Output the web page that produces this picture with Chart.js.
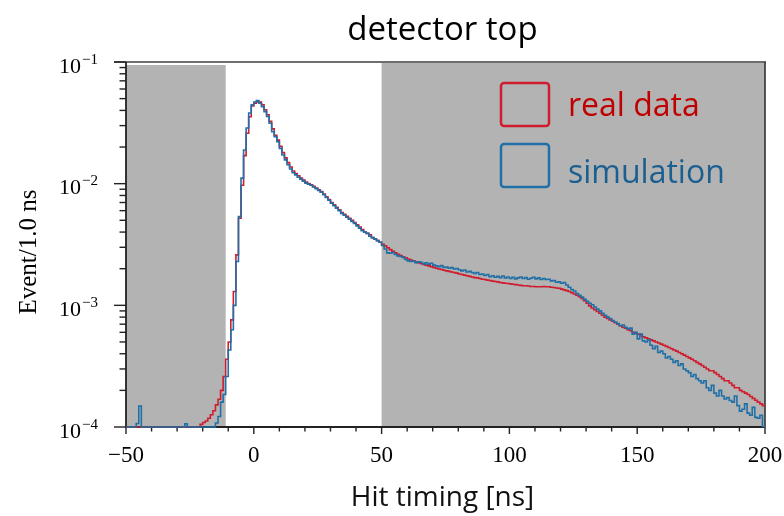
<!DOCTYPE html>
<html>
<head>
<meta charset="utf-8">
<script src="https://cdn.jsdelivr.net/npm/chart.js@4.4.0/dist/chart.umd.min.js"></script>
<style>
  html, body { margin: 0; padding: 0; background: #fff; }
</style>
</head>
<body>
<canvas id="graficaTiming" width="784" height="516"></canvas>
<script>
// histogram bins: 1 ns wide, left edge of first bin at -50 ns
const binStart = -50;
const binWidth = 1;

// real data, Event/1.0 ns, bins -50 .. 199
const realData = [
  1e-4, 1e-4, 1e-4, 1e-4, 1e-4, 1e-4, 1e-4, 1e-4, 1e-4, 1e-4,                       // -50
  1e-4, 1e-4, 1e-4, 1e-4, 1e-4, 1e-4, 1e-4, 1e-4, 1e-4, 1e-4,                       // -40
  1e-4, 1e-4, 1e-4, 1e-4, 1e-4, 1e-4, 1e-4, 1e-4, 1e-4, 1.05e-4,                    // -30
  1.09e-4, 1.12e-4, 1.18e-4, 1.26e-4, 1.36e-4, 1.52e-4, 1.69e-4, 2.0e-4, 2.6e-4, 3.6e-4, // -20
  5.0e-4, 7.6e-4, 1.3e-3, 2.6e-3, 5.2e-3, 9.7e-3, 0.017, 0.026, 0.0355, 0.0435,     // -10
  0.0458, 0.047, 0.0468, 0.0445, 0.0405, 0.0368, 0.0325, 0.0282, 0.0250, 0.0228,    // 0
  0.0203, 0.0180, 0.0163, 0.0149, 0.0137, 0.0127, 0.0121, 0.0116, 0.0111, 0.0107,   // 10
  0.0103, 0.0100, 0.0098, 0.0095, 0.0092, 0.0089, 0.0086, 0.0082, 0.0078, 0.0074,   // 20
  0.0070, 0.0067, 0.0064, 0.0061, 0.0058, 0.0056, 0.0054, 0.0052, 0.0050, 0.0048,   // 30
  0.0046, 0.0044, 0.0042, 0.0040, 0.0039, 0.0038, 0.0036, 0.0035, 0.0034, 0.0033,   // 40
  0.00318, 0.00308, 0.00297, 0.00287, 0.00278, 0.00270, 0.00263, 0.00257, 0.00251, 0.00246, // 50
  0.00240, 0.00236, 0.00232, 0.00228, 0.00224, 0.00221, 0.00217, 0.00214, 0.00211, 0.00208, // 60
  0.00205, 0.00202, 0.00199, 0.00197, 0.00194, 0.00192, 0.00190, 0.00188, 0.00186, 0.00184, // 70
  0.00181, 0.00179, 0.00177, 0.00175, 0.00173, 0.00171, 0.00169, 0.00168, 0.00166, 0.00164, // 80
  0.00163, 0.00161, 0.00160, 0.00158, 0.00157, 0.00156, 0.00154, 0.00153, 0.00152, 0.00151, // 90
  0.00150, 0.00149, 0.00148, 0.00147, 0.00146, 0.00145, 0.00145, 0.00144, 0.00143, 0.00143, // 100
  0.00142, 0.00142, 0.00142, 0.00143, 0.00142, 0.00142, 0.00141, 0.00140, 0.00139, 0.00138, // 110
  0.00136, 0.00134, 0.00132, 0.00130, 0.00127, 0.00124, 0.00121, 0.00118, 0.00114, 0.00109, // 120
  0.00104, 0.00099, 0.00095, 0.00092, 0.00089, 0.00086, 0.00083, 0.00080, 0.00078, 0.00076, // 130
  0.00074, 0.00072, 0.00070, 0.00068, 0.00066, 0.00065, 0.00063, 0.00062, 0.00060, 0.00059, // 140
  0.00058, 0.00056, 0.00055, 0.00054, 0.00053, 0.00052, 0.00051, 0.00050, 0.00049, 0.00048, // 150
  0.00047, 0.00046, 0.00045, 0.00044, 0.00043, 0.00042, 0.00041, 0.00040, 0.00039, 0.00038, // 160
  0.00037, 0.00036, 0.00035, 0.00034, 0.00033, 0.00032, 0.00031, 0.00030, 0.00029, 0.00029, // 170
  0.00028, 0.00027, 0.00026, 0.00025, 0.00024, 0.00024, 0.00023, 0.00022, 0.00021, 0.00021, // 180
  0.00020, 0.000195, 0.00019, 0.000185, 0.000178, 0.000172, 0.000166, 0.00016, 0.000155, 0.00015 // 190
];

// simulation, Event/1.0 ns, bins -50 .. 199
const simulation = [
  1e-4, 1e-4, 1e-4, 1e-4, 1.07e-4, 1.49e-4, 1e-4, 1e-4, 1e-4, 1e-4,                 // -50
  1e-4, 1e-4, 1e-4, 1e-4, 1e-4, 1e-4, 1e-4, 1e-4, 1e-4, 1e-4,                       // -40
  1e-4, 1e-4, 1e-4, 1.06e-4, 1e-4, 1e-4, 1e-4, 1e-4, 1e-4, 1e-4,                    // -30
  1e-4, 1e-4, 1e-4, 1e-4, 1e-4, 1.08e-4, 1.22e-4, 1.6e-4, 1.85e-4, 2.6e-4,          // -20
  4.3e-4, 6.3e-4, 1.0e-3, 2.29e-3, 5.36e-3, 0.0111, 0.0189, 0.0287, 0.0381, 0.0444, // -10
  0.0469, 0.0481, 0.0458, 0.0430, 0.0391, 0.0356, 0.0314, 0.0267, 0.0243, 0.0221,   // 0
  0.0195, 0.0172, 0.0157, 0.0143, 0.0132, 0.0123, 0.0118, 0.0113, 0.0109, 0.0105,   // 10
  0.0101, 0.0099, 0.0097, 0.0094, 0.0091, 0.0088, 0.0085, 0.0081, 0.0077, 0.0073,   // 20
  0.0069, 0.0066, 0.0063, 0.0060, 0.0057, 0.0055, 0.0053, 0.0051, 0.0049, 0.0047,   // 30
  0.0045, 0.0043, 0.0041, 0.0040, 0.0039, 0.0037, 0.0036, 0.0035, 0.0034, 0.0033,   // 40
  0.0031, 0.0029, 0.0027, 0.00268, 0.00272, 0.00262, 0.00255, 0.00252, 0.00248, 0.00238, // 50
  0.00232, 0.00229, 0.00231, 0.00224, 0.00228, 0.00226, 0.00219, 0.00224, 0.00218, 0.00222, // 60
  0.00214, 0.00211, 0.00208, 0.00212, 0.00205, 0.00206, 0.00202, 0.00204, 0.00199, 0.00201, // 70
  0.00196, 0.00192, 0.00195, 0.00188, 0.00190, 0.00186, 0.00183, 0.00186, 0.00179, 0.00181, // 80
  0.00176, 0.00179, 0.00172, 0.00175, 0.00170, 0.00173, 0.00169, 0.00174, 0.00168, 0.00171, // 90
  0.00166, 0.00170, 0.00165, 0.00168, 0.00171, 0.00166, 0.00169, 0.00164, 0.00167, 0.00170, // 100
  0.00165, 0.00168, 0.00163, 0.00166, 0.00163, 0.00164, 0.00159, 0.00160, 0.00155, 0.00156, // 110
  0.00152, 0.00154, 0.00147, 0.00141, 0.00135, 0.00131, 0.00125, 0.00121, 0.00117, 0.00112, // 120
  0.00108, 0.00104, 0.00101, 0.00097, 0.00093, 0.00090, 0.00086, 0.00083, 0.00080, 0.00078, // 130
  0.00075, 0.00073, 0.00071, 0.00068, 0.00069, 0.00066, 0.00064, 0.00065, 0.00058, 0.00060, // 140
  0.00053, 0.00058, 0.00051, 0.00050, 0.00052, 0.00047, 0.00044, 0.00046, 0.00041, 0.00042, // 150
  0.00040, 0.00037, 0.00038, 0.00036, 0.00034, 0.00035, 0.00032, 0.00033, 0.00030, 0.00029, // 160
  0.00028, 0.00026, 0.00027, 0.00025, 0.00024, 0.00023, 0.00024, 0.00021, 0.00020, 0.00022, // 170
  0.00019, 0.00018, 0.00020, 0.00018, 0.00017, 0.000175, 0.000165, 0.00016, 0.00018, 0.00015, // 180
  0.000135, 0.00014, 0.000155, 0.00013, 0.000125, 0.000145, 0.00012, 0.000118, 0.000125, 0.000101 // 190
];

// axis ticks and labels
const xMajorTicks = [-50, 0, 50, 100, 150, 200];
const xTickLabels = ['\u221250', '0', '50', '100', '150', '200'];
const xMinorTicks = [-40, -30, -20, -10, 10, 20, 30, 40, 60, 70, 80, 90, 110, 120, 130, 140, 160, 170, 180, 190];
const yDecades = [1e-1, 1e-2, 1e-3, 1e-4];
const yExponents = ['\u22121', '\u22122', '\u22123', '\u22124'];
const yMinorMultipliers = [2, 3, 4, 5, 6, 7, 8, 9];

// time windows shaded grey [from, to] in ns
const shadedRanges = [[-50, -11], [50, 200]];

const labelTitle = 'detector top';
const labelX = 'Hit timing [ns]';
const labelY = 'Event/1.0 ns';
const legendItems = [
  { text: 'real data', line: '#cf1d2f', textColor: '#c00000', boxTop: 83, baseline: 116 },
  { text: 'simulation', line: '#2070a8', textColor: '#1b5f91', boxTop: 144, baseline: 183 }
];

function histPoints(values) {
  const pts = values.map((v, i) => ({ x: binStart + i * binWidth, y: v }));
  pts.push({ x: binStart + values.length * binWidth, y: values[values.length - 1] });
  return pts;
}

const serif = '"Liberation Serif", "Times New Roman", serif';
const sans = '"Open Sans", "Noto Sans", sans-serif';

const decor = {
  id: 'decor',
  beforeDatasetsDraw(chart) {
    const { ctx, chartArea: a, scales: { x, y } } = chart;
    ctx.save();
    // grey windows
    ctx.fillStyle = '#b3b3b3';
    shadedRanges.forEach(([from, to], i) => {
      const x0 = x.getPixelForValue(from);
      const x1 = x.getPixelForValue(to);
      const top = i === 0 ? a.top + 3 : a.top;
      ctx.fillRect(x0, top, x1 - x0, a.bottom - top);
    });

    // frame
    ctx.lineWidth = 2;
    ctx.strokeStyle = '#6e6e6e';
    ctx.beginPath();
    ctx.moveTo(a.left - 12, a.top);
    ctx.lineTo(a.right + 1, a.top);
    ctx.stroke();
    ctx.strokeStyle = '#333';
    ctx.lineWidth = 1.6;
    ctx.beginPath();
    ctx.moveTo(a.right, a.top);
    ctx.lineTo(a.right, a.bottom);
    ctx.stroke();
    ctx.strokeStyle = '#222';
    ctx.lineWidth = 1.8;
    ctx.beginPath();
    ctx.moveTo(a.left, a.top);
    ctx.lineTo(a.left, a.bottom);
    ctx.lineTo(a.right, a.bottom);
    ctx.stroke();

    // y ticks
    ctx.lineWidth = 1.4;
    yDecades.forEach(d => {
      const py = y.getPixelForValue(d);
      ctx.beginPath();
      ctx.moveTo(a.left - 12, py);
      ctx.lineTo(a.left, py);
      ctx.stroke();
      if (d < 1e-1) {
        yMinorMultipliers.forEach(m => {
          const pm = y.getPixelForValue(d * m);
          ctx.beginPath();
          ctx.moveTo(a.left - 6.5, pm);
          ctx.lineTo(a.left, pm);
          ctx.stroke();
        });
      }
    });
    // x ticks
    xMajorTicks.forEach(v => {
      const px = x.getPixelForValue(v);
      ctx.beginPath();
      ctx.moveTo(px, a.bottom);
      ctx.lineTo(px, a.bottom + 7);
      ctx.stroke();
    });
    xMinorTicks.forEach(v => {
      const px = x.getPixelForValue(v);
      ctx.beginPath();
      ctx.moveTo(px, a.bottom);
      ctx.lineTo(px, a.bottom + 4.5);
      ctx.stroke();
    });
    ctx.restore();
  },
  afterDraw(chart) {
    const { ctx, chartArea: a, scales: { x, y } } = chart;
    ctx.save();
    ctx.fillStyle = '#000';
    ctx.textBaseline = 'alphabetic';

    // x tick labels
    ctx.font = '23px ' + serif;
    ctx.textAlign = 'center';
    xMajorTicks.forEach((v, i) => {
      ctx.fillText(xTickLabels[i], x.getPixelForValue(v), a.bottom + 35);
    });

    // y tick labels 10^n
    yDecades.forEach((d, i) => {
      const py = y.getPixelForValue(d);
      ctx.font = '22px ' + serif;
      ctx.textAlign = 'right';
      ctx.fillText('10', a.left - 45, py + 10.5);
      ctx.font = '15px ' + serif;
      ctx.textAlign = 'left';
      ctx.fillText(yExponents[i], a.left - 44, py + 1.5);
    });

    // axis titles
    ctx.font = '25px ' + serif;
    ctx.textAlign = 'center';
    ctx.save();
    ctx.translate(29, 252);
    ctx.rotate(-Math.PI / 2);
    ctx.textBaseline = 'middle';
    ctx.fillText(labelY, 0, 0);
    ctx.restore();

    ctx.font = '28px ' + sans;
    ctx.fillStyle = '#111';
    ctx.fillText(labelX, (a.left + a.right) / 2 - 3, 506);

    ctx.font = '33px ' + sans;
    ctx.fillStyle = '#000';
    ctx.fillText(labelTitle, (a.left + a.right) / 2 - 3, 40);

    // legend
    legendItems.forEach(item => {
      const bx = a.right - 264;
      ctx.strokeStyle = item.line;
      ctx.lineWidth = 2.5;
      ctx.beginPath();
      ctx.roundRect(bx, item.boxTop, 48, 43, 3);
      ctx.stroke();
      ctx.font = '32px ' + sans;
      ctx.fillStyle = item.textColor;
      ctx.textAlign = 'left';
      ctx.fillText(item.text, bx + 67, item.baseline);
    });
    ctx.restore();
  }
};

const ctx = document.getElementById('graficaTiming').getContext('2d');
const timingChart = new Chart(ctx, {
  type: 'line',
  data: {
    datasets: [
      {
        label: 'simulation',
        data: histPoints(simulation),
        borderColor: '#2070a8',
        borderWidth: 1.6,
        pointRadius: 0,
        stepped: true,
        fill: false,
        order: 0,
        clip: { left: 0, top: 0, right: 2, bottom: 2 }
      },
      {
        label: 'real data',
        data: histPoints(realData),
        borderColor: '#cf1d2f',
        borderWidth: 1.6,
        pointRadius: 0,
        stepped: true,
        fill: false,
        order: 1,
        clip: { left: 0, top: 0, right: 2, bottom: 2 }
      }
    ]
  },
  options: {
    responsive: false,
    animation: false,
    layout: {
      padding: { left: 126, right: 19, top: 62, bottom: 89 }
    },
    plugins: {
      legend: { display: false },
      tooltip: { enabled: false }
    },
    scales: {
      x: { type: 'linear', min: -50, max: 200, display: false },
      y: { type: 'logarithmic', min: 1e-4, max: 1e-1, display: false }
    }
  },
  plugins: [decor]
});
</script>
</body>
</html>
